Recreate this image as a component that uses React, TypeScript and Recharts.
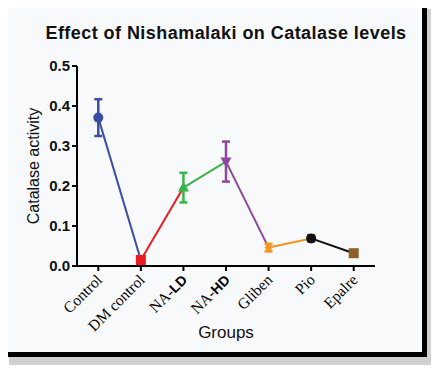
import { LineChart, Line, XAxis, YAxis, ErrorBar, Label } from 'recharts';

const groups = ['Control', 'DM control', 'NA-LD', 'NA-HD', 'Gliben', 'Pio', 'Epalre'];
const catalase = [0.371, 0.015, 0.196, 0.261, 0.046, 0.069, 0.032];
const sem = [0.046, 0.004, 0.037, 0.05, 0.0095, 0.007, 0.004];
const colors = ['#3b4ea6', '#ed1c24', '#3ab54a', '#8e479f', '#f7931e', '#111111', '#8b6128'];
const shapes = ['circle', 'square', 'triangle', 'invtriangle', 'diamond', 'circle', 'square'];
const yTicks = [0, 0.1, 0.2, 0.3, 0.4, 0.5];

// one row per group; seg{j} holds the two ends of segment j, pt{i}/err{i} the marker
const rows = groups.map((name, i) => {
  const r: Record<string, any> = { name };
  if (i < groups.length - 1) r[`seg${i}`] = catalase[i];
  if (i > 0) r[`seg${i - 1}`] = catalase[i];
  r[`pt${i}`] = catalase[i];
  r[`err${i}`] = sem[i];
  return r;
});

function Marker(props: any, i: number) {
  const { cx, cy, index } = props;
  if (cx == null || cy == null || props.value == null) return <g key={`m${i}-${index}`} />;
  const c = colors[i];
  const s = shapes[i];
  const k = `m${i}-${index}`;
  if (s === 'circle') return <circle key={k} cx={cx} cy={cy} r={5} fill={c} />;
  if (s === 'square') return <rect key={k} x={cx - 5} y={cy - 5} width={10} height={10} fill={c} />;
  if (s === 'triangle')
    return <polygon key={k} points={`${cx},${cy - 6} ${cx - 5.5},${cy + 4} ${cx + 5.5},${cy + 4}`} fill={c} />;
  if (s === 'invtriangle')
    return <polygon key={k} points={`${cx},${cy + 6} ${cx - 5.5},${cy - 4} ${cx + 5.5},${cy - 4}`} fill={c} />;
  return <polygon key={k} points={`${cx},${cy - 5} ${cx + 4},${cy} ${cx},${cy + 5} ${cx - 4},${cy}`} fill={c} />;
}

function GroupTick(props: any) {
  const { x, y, payload } = props;
  const label: string = payload.value;
  const na = label.startsWith('NA-');
  return (
    <g transform={`translate(${x + 2},${y + 5}) rotate(-45)`}>
      <text x={0} y={0} dy={4} textAnchor="end" fontFamily="'Liberation Serif', serif" fontSize={15.5} fill="#000">
        {na ? (
          <>
            <tspan>NA-</tspan>
            <tspan fontWeight="bold" fontFamily="'Liberation Sans', Arial, sans-serif" fontSize={14}>
              {label.slice(3)}
            </tspan>
          </>
        ) : (
          label
        )}
      </text>
    </g>
  );
}

export default function App() {
  return (
    <div style={{ position: 'relative', width: 439, height: 373, margin: -8, background: '#fff', overflow: 'hidden' }}>
      <div
        style={{
          position: 'absolute',
          left: 9,
          top: 9,
          width: 425,
          height: 356,
          backgroundImage: 'radial-gradient(#999 0.6px, transparent 0.8px)',
          backgroundSize: '2px 2px',
        }}
      />
      <div
        style={{
          position: 'absolute',
          left: 4,
          top: 5,
          width: 423,
          height: 352,
          boxSizing: 'border-box',
          borderTop: '3px solid #000',
          borderLeft: '3px solid #000',
          borderRight: '5px solid #000',
          borderBottom: '5px solid #000',
          background: '#f8f9fb',
        }}
      />
      <div
        style={{
          position: 'absolute',
          left: 0,
          width: 452,
          top: 23,
          textAlign: 'center',
          fontFamily: "'Liberation Sans', Arial, sans-serif",
          fontWeight: 'bold',
          fontSize: 18,
          letterSpacing: 0.45,
          color: '#111',
        }}
      >
        Effect of Nishamalaki on Catalase levels
      </div>
      <LineChart
        width={439}
        height={373}
        data={rows}
        margin={{ top: 66, right: 64, bottom: 7, left: 27 }}
        style={{ position: 'absolute', left: 0, top: 0 }}
      >
        <XAxis
          dataKey="name"
          scale="band"
          height={100}
          interval={0}
          axisLine={{ stroke: '#000', strokeWidth: 2 }}
          tickLine={{ stroke: '#000', strokeWidth: 2 }}
          tickSize={5}
          tick={<GroupTick />}
        >
          <Label
            content={({ viewBox }: any) => (
              <text
                x={viewBox.x + viewBox.width / 2}
                y={338}
                textAnchor="middle"
                fontFamily="'Liberation Sans', Arial, sans-serif"
                fontSize={17}
                fill="#111"
              >
                Groups
              </text>
            )}
          />
        </XAxis>
        <YAxis
          width={50}
          domain={[0, 0.5]}
          ticks={yTicks}
          tickFormatter={(v: number) => v.toFixed(1)}
          axisLine={{ stroke: '#000', strokeWidth: 2 }}
          tickLine={{ stroke: '#000', strokeWidth: 2 }}
          tickSize={5}
          tick={{ fontFamily: "'Liberation Sans', Arial, sans-serif", fontWeight: 'bold', fontSize: 15, fill: '#111' }}
        >
          <Label
            content={({ viewBox }: any) => {
              const cx = 33;
              const cy = viewBox.y + viewBox.height / 2;
              return (
                <text
                  x={cx}
                  y={cy}
                  transform={`rotate(-90 ${cx} ${cy})`}
                  textAnchor="middle"
                  dominantBaseline="central"
                  fontFamily="'Liberation Sans', Arial, sans-serif"
                  fontSize={16}
                  fill="#111"
                >
                  Catalase activity
                </text>
              );
            }}
          />
        </YAxis>
        {groups.slice(0, -1).map((g, j) => (
          <Line
            key={`seg${j}`}
            dataKey={`seg${j}`}
            stroke={colors[j]}
            strokeWidth={2}
            dot={false}
            activeDot={false}
            isAnimationActive={false}
          />
        ))}
        {groups.map((g, i) => (
          <Line
            key={`pt${i}`}
            dataKey={`pt${i}`}
            stroke="none"
            dot={(p: any) => Marker(p, i)}
            activeDot={false}
            isAnimationActive={false}
          >
            <ErrorBar dataKey={`err${i}`} width={4} stroke={colors[i]} strokeWidth={2.5} />
          </Line>
        ))}
      </LineChart>
    </div>
  );
}
